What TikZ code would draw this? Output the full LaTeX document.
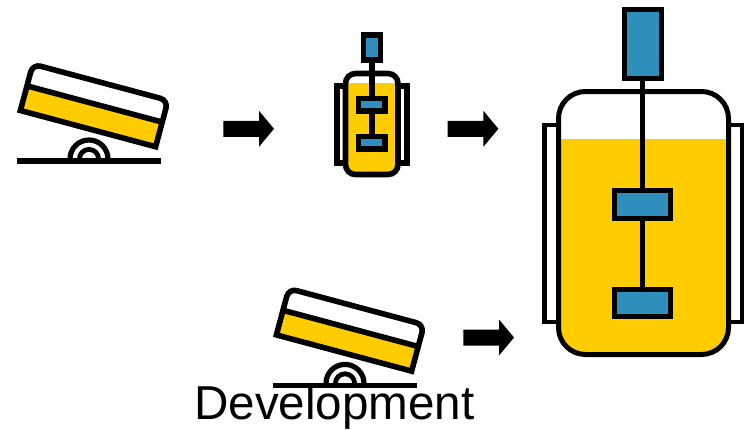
\documentclass[tikz,border=0pt]{standalone}
\usepackage{fontspec}
\setmainfont{Liberation Sans}
\definecolor{liquid}{HTML}{FFCC00}
\definecolor{steel}{HTML}{2E8FBC}
\tikzset{
  x=1pt,y=-1pt,
  ink/.style={draw=black,line join=miter},
  thick5/.style={ink,line width=5pt},
  thick56/.style={ink,line width=5.6pt},
  blockarrow/.style={fill=black},
  label/.style={font=\fontsize{47.6}{47.6}\selectfont,text=black,inner sep=0pt,anchor=base west}
}
\newcommand{\shaker}[2]{%
  \begin{scope}[shift={(#1,#2)}]
    \draw[ink,line width=5.4pt] (16.7,161) -- (161,161);
    \draw[ink,line width=5.2pt] (70,159) arc[start angle=180,end angle=360,radius=19];
    \draw[ink,line width=4.8pt] (79.4,159) arc[start angle=180,end angle=360,radius=9.6];
    \begin{scope}[shift={(20.4,110.5)},rotate=-15]
      \fill[white] (0,0) -- (140,0) -- (140,-40) .. controls (140,-44.4) and (136.4,-48) .. (132,-48) -- (8,-48) .. controls (3.6,-48) and (0,-44.4) .. (0,-40) -- cycle;
      \fill[liquid] (0,0) rectangle (140,-25.5);
      \draw[thick56] (0,-25.5) -- (140,-25.5);
      \draw[thick56] (0,0) -- (140,0) -- (140,-40) .. controls (140,-44.4) and (136.4,-48) .. (132,-48) -- (8,-48) .. controls (3.6,-48) and (0,-44.4) .. (0,-40) -- cycle;
    \end{scope}
  \end{scope}}
\newcommand{\blockarrow}[2]{%
  \fill[blockarrow,shift={(#1,#2)}] (0,-8) -- (35.7,-8) -- (35.7,-18) -- (50.7,0) -- (35.7,18) -- (35.7,8) -- (0,8) -- cycle;}
\begin{document}
\begin{tikzpicture}
  \useasboundingbox (0,0) rectangle (746,429);
  % shakers
  \shaker{0}{0}
  \shaker{256}{224.4}
  % arrows
  \blockarrow{223.3}{128.8}
  \blockarrow{447.7}{128.8}
  \blockarrow{463.3}{337.5}
  % small vessel
  \draw[thick56] (337,85.7) rectangle (406.8,162.8);
  \fill[white,rounded corners=10pt] (345.5,73.5) rectangle (398,174.5);
  \begin{scope}
    \clip[rounded corners=10pt] (345.5,73.5) rectangle (398,174.5);
    \fill[liquid] (340,83) rectangle (403,180);
  \end{scope}
  \draw[thick56,rounded corners=10pt] (345.5,73.5) rectangle (398,174.5);
  \draw[thick56] (371.7,60) -- (371.7,137);
  \draw[thick56,fill=steel] (363.4,35) rectangle (380.6,60);
  \draw[thick56,fill=steel] (358.6,98.6) rectangle (384.7,110.8);
  \draw[thick56,fill=steel] (358.6,136.6) rectangle (384.7,149.2);
  % large vessel
  \draw[ink,line width=4.6pt] (544.6,125) rectangle (742,321.8);
  \fill[white,rounded corners=27pt] (558.5,91.5) rectangle (728.5,354.5);
  \begin{scope}
    \clip[rounded corners=27pt] (558.5,91.5) rectangle (728.5,354.5);
    \fill[liquid] (550,139) rectangle (735,360);
  \end{scope}
  \draw[thick5,rounded corners=27pt] (558.5,91.5) rectangle (728.5,354.5);
  \draw[thick5] (642.7,79) -- (642.7,290);
  \draw[thick5,fill=steel] (624.2,9.8) rectangle (661.5,78.8);
  \draw[thick5,fill=steel] (614.8,190.8) rectangle (670.8,218.2);
  \draw[thick5,fill=steel] (614.8,289.8) rectangle (670.8,316.5);
  % caption
  \node[label] (caption) at (194,419.6) {Development};
\end{tikzpicture}
\end{document}
